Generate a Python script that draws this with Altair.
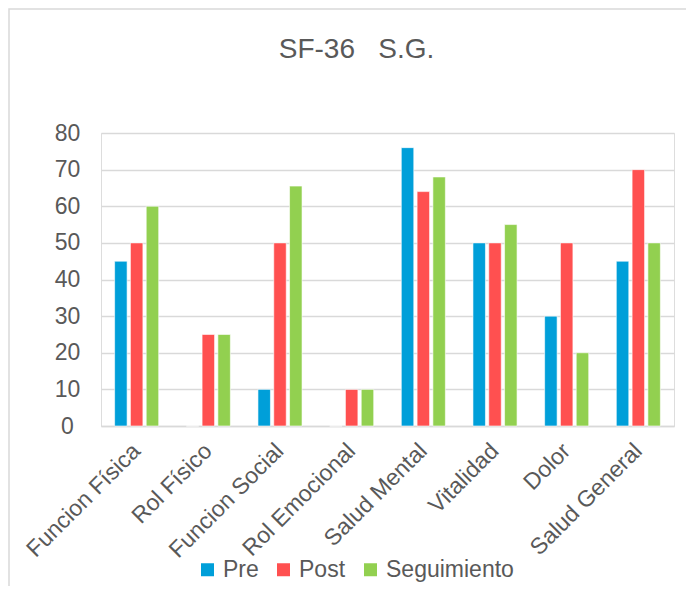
import altair as alt
import pandas as pd

categorias = ["Funcion Física", "Rol Físico", "Funcion Social", "Rol Emocional",
              "Salud Mental", "Vitalidad", "Dolor", "Salud General"]
series = ["Pre", "Post", "Seguimiento"]
pre = [45, 0, 10, 0, 76, 50, 30, 45]
post = [50, 25, 50, 10, 64, 50, 50, 70]
seguimiento = [60, 25, 65.5, 10, 68, 55, 20, 50]
colores = ["#009FD9", "#FF5050", "#92D050"]
ticks_y = [0, 10, 20, 30, 40, 50, 60, 70, 80]

rows = []
for s, vals in zip(series, [pre, post, seguimiento]):
    for c, v in zip(categorias, vals):
        rows.append({"Categoria": c, "Serie": s, "Valor": v})
df = pd.DataFrame(rows)

FONT = "Liberation Sans"
GREY = "#595959"

bars = alt.Chart(df).mark_bar(stroke="white", strokeWidth=0.6).encode(
    x=alt.X("Categoria:N", sort=categorias, title=None,
            scale=alt.Scale(paddingInner=0.385, paddingOuter=0.19),
            axis=alt.Axis(labelAngle=-45, labelAlign="right", labelBaseline="middle",
                          labelPadding=21, labelFontSize=23, labelColor=GREY, labelFont=FONT,
                          ticks=False, tickSize=0, domainColor="#d9d9d9", domainWidth=1.5,
                          labelOverlap=False, labelLimit=0)),
    xOffset=alt.XOffset("Serie:N", sort=series, scale=alt.Scale(paddingInner=0.21)),
    y=alt.Y("Valor:Q", title=None, scale=alt.Scale(domain=[0, 80]),
            axis=alt.Axis(values=ticks_y, grid=True, gridColor="#d9d9d9", gridWidth=1.5,
                          domain=False, ticks=False, tickSize=0, labelAlign="center",
                          labelPadding=34, labelFontSize=23, labelColor=GREY, labelFont=FONT)),
    color=alt.Color("Serie:N", sort=series,
                    scale=alt.Scale(domain=series, range=colores),
                    legend=alt.Legend(orient="none", legendX=95, legendY=425,
                                      direction="horizontal", title=None,
                                      symbolType="square", symbolSize=169,
                                      symbolStrokeWidth=0, labelFontSize=23,
                                      labelColor=GREY, labelFont=FONT,
                                      columnPadding=13, labelOffset=4)),
)

frame = alt.Chart(alt.Data(values=[{}])).mark_rect(
    fillOpacity=0, stroke="#d9d9d9", strokeWidth=1.5
).encode(x=alt.value(-92), x2=alt.value(700), y=alt.value(-124), y2=alt.value(700))

chart = alt.layer(frame, bars).properties(
    width=573, height=293,
    title=alt.TitleParams("SF-36\u00a0\u00a0\u00a0S.G.", fontSize=28, color=GREY, font=FONT,
                          fontWeight="normal", anchor="middle", dx=-31, offset=0,
                          baseline="bottom", dy=84),
    autosize=alt.AutoSizeParams(type="none"),
    padding={"left": 93, "top": 125, "right": 12, "bottom": 160},
).configure_view(stroke=None).configure(background="white")

chart.save("out.html", embed_options={"renderer": "svg", "actions": False})
